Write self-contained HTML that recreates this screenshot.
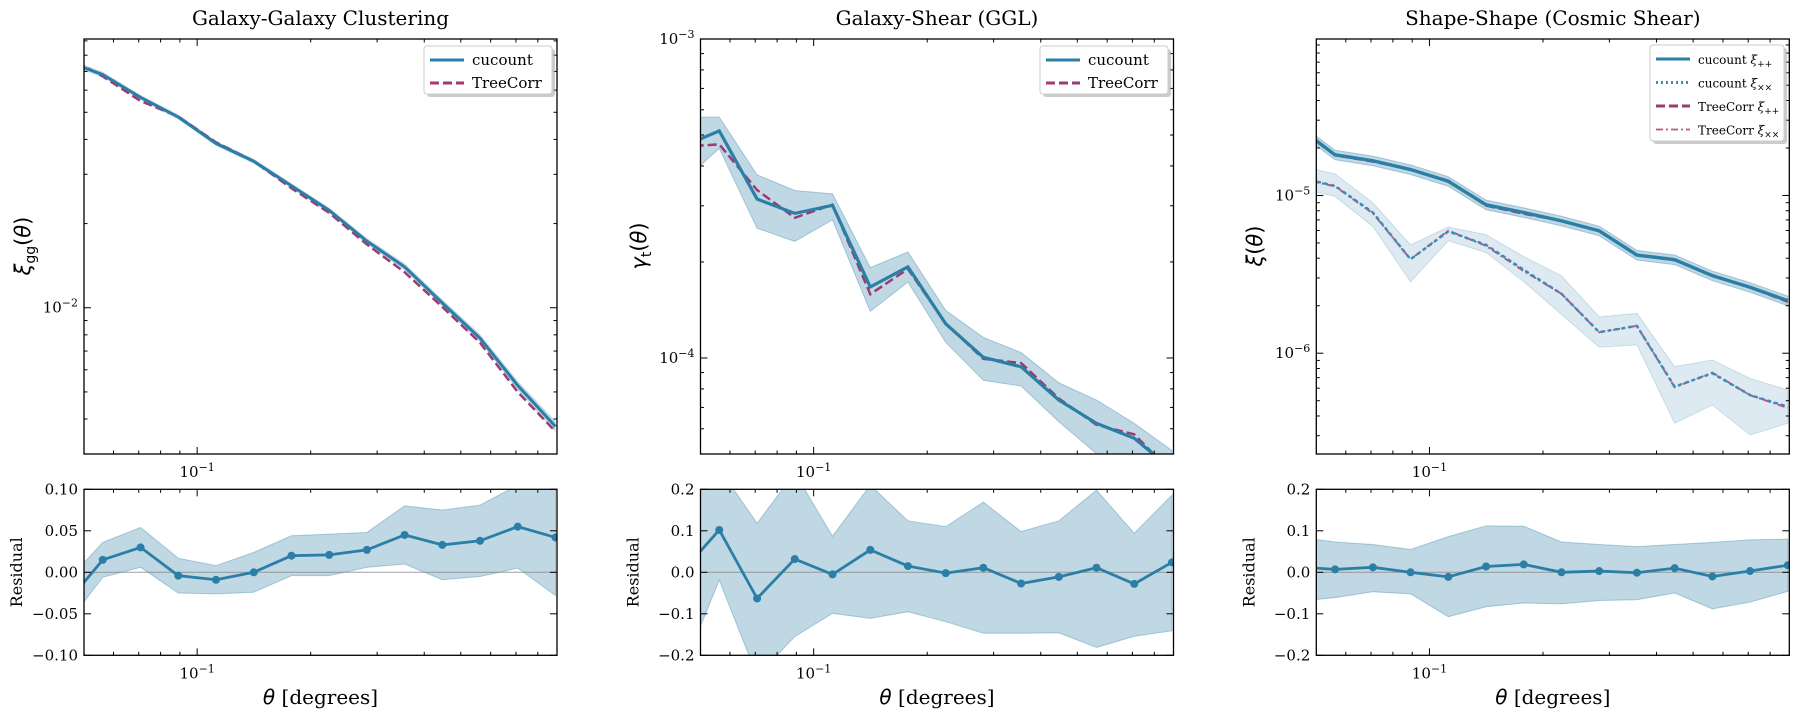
<!DOCTYPE html>
<html><head><meta charset="utf-8"><style>
body{margin:0;background:#fff}
svg{display:block}
text{font-family:"DejaVu Serif","Liberation Serif",serif;fill:#000}
.sans{font-family:"DejaVu Sans","Liberation Sans",sans-serif}
</style></head><body>
<svg id="fig" xmlns="http://www.w3.org/2000/svg" width="1799" height="716" viewBox="0 0 1799 716">
<defs>
<clipPath id="c0t"><rect x="84" y="39" width="473" height="415"/></clipPath>
<clipPath id="c0b"><rect x="84" y="489.3" width="473" height="166"/></clipPath>
<clipPath id="c1t"><rect x="700.5" y="39" width="473" height="415"/></clipPath>
<clipPath id="c1b"><rect x="700.5" y="489.3" width="473" height="166"/></clipPath>
<clipPath id="c2t"><rect x="1316.3" y="39" width="473" height="415"/></clipPath>
<clipPath id="c2b"><rect x="1316.3" y="489.3" width="473" height="166"/></clipPath>
</defs>
</svg>
<script>
// ---- data ----
const theta = [0.0447,0.0562,0.0708,0.0891,0.1122,0.1413,0.1778,0.2239,0.2818,0.3548,0.4467,0.5623,0.7079,0.8913];
const ggCu = [0.0764,0.0682,0.0565,0.0481,0.0387,0.0334,0.0273,0.0223,0.0173,0.0140,0.0104,0.00778,0.00527,0.00376];
const ggBandRel = [0.025,0.022,0.02,0.02,0.02,0.02,0.02,0.022,0.025,0.028,0.03,0.033,0.038,0.045];
const ggResid = [-0.039,0.015,0.030,-0.004,-0.009,0.000,0.020,0.021,0.027,0.045,0.033,0.038,0.055,0.042];
const ggResidErr = [0.026,0.021,0.024,0.021,0.017,0.024,0.024,0.025,0.021,0.035,0.042,0.043,0.05,0.07];

const gtCu = [4.59e-4,5.15e-4,3.15e-4,2.84e-4,3.01e-4,1.67e-4,1.93e-4,1.28e-4,1.005e-4,9.38e-5,7.38e-5,6.24e-5,5.60e-5,4.47e-5];
const gtHi = [5.69e-4,5.69e-4,3.75e-4,3.35e-4,3.27e-4,1.92e-4,2.15e-4,1.41e-4,1.16e-4,1.04e-4,8.36e-5,7.38e-5,6.24e-5,5.13e-5];
const gtLo = [3.55e-4,4.54e-4,2.55e-4,2.32e-4,2.71e-4,1.40e-4,1.73e-4,1.12e-4,8.51e-5,8.17e-5,6.31e-5,5.01e-5,4.47e-5,3.55e-5];
const gtResid = [0.0,0.102,-0.063,0.032,-0.005,0.054,0.015,-0.002,0.011,-0.027,-0.011,0.011,-0.028,0.024];
const gtResidHi = [0.30,0.25,0.118,0.24,0.087,0.21,0.124,0.11,0.169,0.098,0.124,0.198,0.094,0.186];
const gtResidLo = [-0.24,-0.019,-0.25,-0.155,-0.099,-0.111,-0.095,-0.119,-0.147,-0.147,-0.146,-0.181,-0.154,-0.141];

const xippCu = [2.73e-5,1.81e-5,1.66e-5,1.46e-5,1.23e-5,8.73e-6,7.80e-6,6.90e-6,5.97e-6,4.19e-6,3.92e-6,3.10e-6,2.62e-6,2.15e-6];
const xippBandRel = [0.07,0.07,0.07,0.07,0.07,0.07,0.07,0.07,0.07,0.07,0.07,0.07,0.07,0.07];
const xixxCu = [1.31e-5,1.15e-5,7.80e-6,3.94e-6,5.92e-6,4.86e-6,3.38e-6,2.38e-6,1.36e-6,1.49e-6,6.14e-7,7.46e-7,5.43e-7,4.58e-7];
const xixxHi = [1.55e-5,1.37e-5,8.99e-6,4.86e-6,6.31e-6,5.64e-6,4.10e-6,3.09e-6,1.70e-6,1.79e-6,8.22e-7,9.06e-7,6.92e-7,5.85e-7];
const xixxLo = [1.12e-5,9.86e-6,6.35e-6,2.84e-6,5.16e-6,4.35e-6,2.84e-6,1.76e-6,1.09e-6,1.13e-6,3.60e-7,4.70e-7,3.03e-7,3.60e-7];
const ssResid = [0.013,0.007,0.012,0.000,-0.011,0.014,0.019,0.000,0.003,-0.001,0.010,-0.010,0.003,0.017];
const ssResidHi = [0.085,0.073,0.067,0.055,0.086,0.112,0.111,0.073,0.067,0.062,0.067,0.072,0.078,0.080];
const ssResidLo = [-0.07,-0.061,-0.047,-0.052,-0.107,-0.083,-0.074,-0.076,-0.068,-0.066,-0.05,-0.088,-0.072,-0.046];

const residTicks1 = [-0.10,-0.05,0.00,0.05,0.10];
const residTicks2 = [-0.2,-0.1,0.0,0.1,0.2];

// ---- helpers ----
const NS = "http://www.w3.org/2000/svg";
const svg = document.getElementById('fig');
const BLUE = "#2b7fa6", PURPLE = "#9e3a72", PINK = "#c2508b";
function el(tag, attrs, parent){ const e=document.createElementNS(NS,tag); for(const k in attrs) e.setAttribute(k,attrs[k]); (parent||svg).appendChild(e); return e; }
const XL0 = -1.3, XL1 = -0.046, W = 473;
function xs(left){ return v => left + (Math.log10(v)-XL0)/(XL1-XL0)*W; }
function ylog(top,bot,l0,l1){ return v => bot - (Math.log10(v)-l0)/(l1-l0)*(bot-top); }
function ylin(top,bot,a,b){ return v => bot - (v-a)/(b-a)*(bot-top); }
function pts(xf,yf,ys){ return ys.map((y,i)=>xf(theta[i]).toFixed(2)+","+yf(y).toFixed(2)).join(" "); }
function band(xf,yf,lo,hi){ const a=lo.map((v,i)=>xf(theta[i]).toFixed(2)+","+yf(v).toFixed(2)); const b=hi.map((v,i)=>xf(theta[i]).toFixed(2)+","+yf(v).toFixed(2)).reverse(); return a.concat(b).join(" "); }

function xTicks(g,left,top,bot,label){
  const xf = xs(left);
  const minors=[0.05,0.06,0.07,0.08,0.09,0.2,0.3,0.4,0.5,0.6,0.7,0.8];
  minors.forEach(v=>{ const x=xf(v); if(x<left+0.5||x>left+W-0.5) return;
    el('line',{x1:x,x2:x,y1:bot,y2:bot-3.5,stroke:'#000','stroke-width':1},g);
    el('line',{x1:x,x2:x,y1:top,y2:top+3.5,stroke:'#000','stroke-width':1},g); });
  const x=xf(0.1);
  el('line',{x1:x,x2:x,y1:bot,y2:bot-7,stroke:'#000','stroke-width':1},g);
  el('line',{x1:x,x2:x,y1:top,y2:top+7,stroke:'#000','stroke-width':1},g);
  if(label){ const t=el('text',{x:x,y:bot+23,'text-anchor':'middle','font-size':15},g); t.innerHTML='10<tspan dy="-6" font-size="11">−1</tspan>';
    
     }
}
function yLogTicks(g,left,top,bot,l0,l1,labels){
  const yf=ylog(top,bot,l0,l1);
  for(let d=Math.floor(l0);d<=Math.ceil(l1);d++){
    for(let m=1;m<10;m++){ const v=m*Math.pow(10,d); const y=yf(v); if(y<top-0.5||y>bot+0.5) continue;
      const len=m===1?7:3.5;
      el('line',{x1:left,x2:left+len,y1:y,y2:y,stroke:'#000','stroke-width':1},g);
      el('line',{x1:left+W,x2:left+W-len,y1:y,y2:y,stroke:'#000','stroke-width':1},g);
      if(m===1 && labels){ const t=el('text',{x:left-6,y:y+5,'text-anchor':'end','font-size':15},g); t.innerHTML='10<tspan dy="-6" font-size="11">−'+(-d)+'</tspan>';
        
         }
    }
  }
}
function yLinTicks(g,left,top,bot,a,b,ticks,dec){
  const yf=ylin(top,bot,a,b);
  ticks.forEach(v=>{ const y=yf(v);
    el('line',{x1:left,x2:left+7,y1:y,y2:y,stroke:'#000','stroke-width':1},g);
    el('line',{x1:left+W,x2:left+W-7,y1:y,y2:y,stroke:'#000','stroke-width':1},g);
    const t=el('text',{x:left-6,y:y+5,'text-anchor':'end','font-size':15},g);
    t.textContent=(v<0?'−':'')+Math.abs(v).toFixed(dec);
    
     });
}
function frame(g,left,top,bot){ el('rect',{x:left,y:top,width:W,height:bot-top,fill:'none',stroke:'#000','stroke-width':1.3},g); }

function residPanel(idx,left,vals,lo,hi,a,b,ticks,dec){
  const top=489.3, bot=655.3;
  const g=el('g',{});
  
  
  const xf=xs(left), yf=ylin(top,bot,a,b);
  const c=el('g',{'clip-path':'url(#c'+idx+'b)'},g);
  const bd=el('polygon',{points:band(xf,yf,lo,hi),fill:'rgba(43,127,166,0.3)',stroke:'rgba(43,127,166,0.35)','stroke-width':1},c);
  
  
  el('line',{x1:left,x2:left+W,y1:yf(0),y2:yf(0),stroke:'#888','stroke-width':1,opacity:0.8},c);
  const ln=el('polyline',{points:pts(xf,yf,vals),fill:'none',stroke:BLUE,'stroke-width':2.8},c);
  
  
  vals.forEach((v,i)=>{ const m=el('circle',{cx:xf(theta[i]),cy:yf(v),r:4,fill:BLUE},c);
    
     });
  frame(g,left,top,bot);
  xTicks(g,left,top,bot,true);
  yLinTicks(g,left,top,bot,a,b,ticks,dec);
  const yl=el('text',{x:0,y:0,'text-anchor':'middle','font-size':16,transform:'translate('+(left-62)+','+((top+bot)/2)+') rotate(-90)'},g);
  yl.textContent='Residual';
  
  
  const xl=el('text',{x:left+W/2,y:704,'text-anchor':'middle','font-size':20},g);
  xl.innerHTML='<tspan class="sans" font-style="italic">θ</tspan> [degrees]';
  
  
}
function legend(g,x,y,w,h,items,fs,rowH){
  el('rect',{x:x+3,y:y+3,width:w,height:h,rx:3,fill:'#aaa',opacity:0.6},g);
  const bx=el('rect',{x:x,y:y,width:w,height:h,rx:3,fill:'#fff',stroke:'#ccc','stroke-width':1},g);
  
  
  items.forEach((it,i)=>{ const cy=y+14+i*rowH;
    const l=el('line',{x1:x+6,x2:x+40,y1:cy,y2:cy,stroke:it.c,'stroke-width':it.w||3,'stroke-dasharray':it.d||'none'},g);
    
    
    const t=el('text',{x:x+48,y:cy+5,'font-size':fs},g); t.innerHTML=it.t;
    
     });
}
function title(left,txt){ const t=el('text',{x:left+W/2,y:25,'text-anchor':'middle','font-size':20}); t.textContent=txt;
  
   }
function yTitle(x,html){ const t=el('text',{x:0,y:0,'text-anchor':'middle','font-size':21,transform:'translate('+x+',246) rotate(-90)'}); t.setAttribute('class','sans'); t.innerHTML=html;
  
   }

const TOP=39, BOT=454;
// ---- Panel 1 ----
(function(){
  const left=84, l0=-2.523, l1=-1.039;
  const g=el('g',{});  
  const xf=xs(left), yf=ylog(TOP,BOT,l0,l1);
  const c=el('g',{'clip-path':'url(#c0t)'},g);
  const lo=ggCu.map((v,i)=>v*(1-ggBandRel[i])), hi=ggCu.map((v,i)=>v*(1+ggBandRel[i]));
  const bd=el('polygon',{points:band(xf,yf,lo,hi),fill:'rgba(43,127,166,0.3)',stroke:'none'},c);
   
  const tc=ggCu.map((v,i)=>v/(1+ggResid[i]));
  const l2=el('polyline',{points:pts(xf,yf,tc),fill:'none',stroke:PURPLE,'stroke-width':2.5,'stroke-dasharray':'9,4'},c);
   
  const l1e=el('polyline',{points:pts(xf,yf,ggCu),fill:'none',stroke:BLUE,'stroke-width':3},c);
   
  frame(g,left,TOP,BOT); xTicks(g,left,TOP,BOT,true); yLogTicks(g,left,TOP,BOT,l0,l1,true);
  legend(g,424,46,128,48,[{t:'cucount',c:BLUE},{t:'TreeCorr',c:PURPLE,d:'9,4'}],15,23);
  title(left,'Galaxy-Galaxy Clustering');
  yTitle(30,'<tspan font-style="italic">ξ</tspan><tspan dy="5" font-size="14">gg</tspan><tspan dy="-5">(</tspan><tspan font-style="italic">θ</tspan>)');
  residPanel(0,left,ggResid,ggResid.map((v,i)=>v-ggResidErr[i]),ggResid.map((v,i)=>v+ggResidErr[i]),-0.1,0.1,residTicks1,2);
})();
// ---- Panel 2 ----
(function(){
  const left=700.5, l0=-4.301, l1=-3;
  const g=el('g',{});  
  const xf=xs(left), yf=ylog(TOP,BOT,l0,l1);
  const c=el('g',{'clip-path':'url(#c1t)'},g);
  const bd=el('polygon',{points:band(xf,yf,gtLo,gtHi),fill:'rgba(43,127,166,0.3)',stroke:'rgba(43,127,166,0.35)','stroke-width':1},c);
   
  const tc=gtCu.map((v,i)=>v/(1+gtResid[i]));
  const l2=el('polyline',{points:pts(xf,yf,tc),fill:'none',stroke:PURPLE,'stroke-width':2.5,'stroke-dasharray':'9,4'},c);
   
  const l1e=el('polyline',{points:pts(xf,yf,gtCu),fill:'none',stroke:BLUE,'stroke-width':3.2},c);
   
  frame(g,left,TOP,BOT); xTicks(g,left,TOP,BOT,true); yLogTicks(g,left,TOP,BOT,l0,l1,true);
  legend(g,1040,46,128,48,[{t:'cucount',c:BLUE},{t:'TreeCorr',c:PURPLE,d:'9,4'}],15,23);
  title(left,'Galaxy-Shear (GGL)');
  yTitle(646,'<tspan font-style="italic">γ</tspan><tspan dy="5" font-size="14">t</tspan><tspan dy="-5">(</tspan><tspan font-style="italic">θ</tspan>)');
  residPanel(1,left,gtResid,gtResidLo,gtResidHi,-0.2,0.2,residTicks2,1);
})();
// ---- Panel 3 ----
(function(){
  const left=1316.3, l0=-6.639, l1=-4.008;
  const g=el('g',{});  
  const xf=xs(left), yf=ylog(TOP,BOT,l0,l1);
  const c=el('g',{'clip-path':'url(#c2t)'},g);
  const b1=el('polygon',{points:band(xf,yf,xixxLo,xixxHi),fill:'rgba(43,127,166,0.16)',stroke:'rgba(43,127,166,0.2)','stroke-width':1},c);
   
  const lo=xippCu.map((v,i)=>v*(1-xippBandRel[i])), hi=xippCu.map((v,i)=>v*(1+xippBandRel[i]));
  const b2=el('polygon',{points:band(xf,yf,lo,hi),fill:'rgba(43,127,166,0.3)',stroke:'rgba(43,127,166,0.35)','stroke-width':1},c);
   
  const tpp=xippCu.map((v,i)=>v/(1+ssResid[i]));
  const txx=xixxCu.map((v,i)=>v/(1+ssResid[i]));
  const a=el('polyline',{points:pts(xf,yf,tpp),fill:'none',stroke:PURPLE,'stroke-width':2.3,'stroke-dasharray':'9,4'},c);
   
  const b=el('polyline',{points:pts(xf,yf,txx),fill:'none',stroke:PINK,'stroke-width':2,'stroke-dasharray':'7,3,2,3'},c);
   
  const d=el('polyline',{points:pts(xf,yf,xixxCu),fill:'none',stroke:'#3a8fb8','stroke-width':2.5,'stroke-dasharray':'2,5','stroke-linecap':'round'},c);
   
  const e=el('polyline',{points:pts(xf,yf,xippCu),fill:'none',stroke:BLUE,'stroke-width':3.4},c);
   
  frame(g,left,TOP,BOT); xTicks(g,left,TOP,BOT,true); yLogTicks(g,left,TOP,BOT,l0,l1,true);
  legend(g,1650,45,134,96,[
    {t:'cucount <tspan font-style="italic">ξ</tspan><tspan dy="3" font-size="9">++</tspan>',c:BLUE,w:3},
    {t:'cucount <tspan font-style="italic">ξ</tspan><tspan dy="3" font-size="9">××</tspan>',c:'#3a8fb8',d:'2,3'},
    {t:'TreeCorr <tspan font-style="italic">ξ</tspan><tspan dy="3" font-size="9">++</tspan>',c:PURPLE,d:'9,4'},
    {t:'TreeCorr <tspan font-style="italic">ξ</tspan><tspan dy="3" font-size="9">××</tspan>',c:PINK,d:'7,3,2,3',w:1.8}],12,23.5);
  title(left,'Shape-Shape (Cosmic Shear)');
  yTitle(1262,'<tspan font-style="italic">ξ</tspan>(<tspan font-style="italic">θ</tspan>)');
  residPanel(2,left,ssResid,ssResidLo,ssResidHi,-0.2,0.2,residTicks2,1);
})();
</script>
</body></html>
